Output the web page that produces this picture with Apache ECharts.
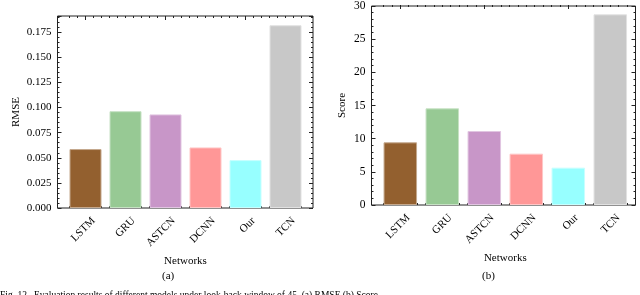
<!DOCTYPE html>
<html>
<head>
<meta charset="utf-8">
<script src="https://cdn.jsdelivr.net/npm/echarts@6/dist/echarts.min.js"></script>
<style>html,body{margin:0;padding:0;background:#fff}#c{width:640px;height:295px}</style>
</head>
<body>
<div id="c"></div>
<script>
// ---- data ----
const categories = ['LSTM', 'GRU', 'ASTCN', 'DCNN', 'Our', 'TCN'];
const rmseValues = [0.0587, 0.0964, 0.0932, 0.0603, 0.0477, 0.182];
const scoreValues = [9.4, 14.5, 11.1, 7.7, 5.6, 28.6];
const barColors = ['#93602f', '#97c994', '#c896c8', '#ff9797', '#97ffff', '#c8c8c8'];
const rmseTickStep = 0.025;
const scoreTickStep = 5;
const xTitle = 'Networks';
const yTitleA = 'RMSE';
const yTitleB = 'Score';
const caption = 'Fig. 12   Evaluation results of different models under look-back window of 45. (a) RMSE (b) Score';

const FONT = '"Liberation Serif", "DejaVu Serif", serif';
const minorCats = Array.from({length: 30}, () => '');

function lighten(hex, f) {
  const n = parseInt(hex.slice(1), 16);
  const r = (n >> 16) & 255, g = (n >> 8) & 255, b = n & 255;
  const m = c => Math.round(c + (255 - c) * f);
  return 'rgb(' + m(r) + ',' + m(g) + ',' + m(b) + ')';
}

function panel(gi, xi, yi, frame, bars, yMax, step, fmt, yTitle, nameGap, vals, barW, labelFont, xNameGap) {
  const grids = [
    Object.assign({show: true, borderColor: '#222', borderWidth: 1, backgroundColor: 'transparent'}, frame),
    Object.assign({show: false}, bars)
  ];
  const tickStyle = {color: '#222', width: 1};
  const xAxes = [
    {type: 'value', gridIndex: gi, show: false, min: 0, max: 1},
    {type: 'category', gridIndex: gi + 1, position: 'bottom', data: categories,
      axisLine: {show: false},
      axisTick: {show: true, inside: true, length: 4, alignWithLabel: true, lineStyle: tickStyle},
      axisLabel: {interval: 0, rotate: 45, margin: 3, verticalAlign: 'top', padding: [6, 0, 0, 0],
        color: '#000', fontFamily: FONT, fontSize: 11},
      name: xTitle, nameLocation: 'middle', nameGap: xNameGap,
      nameTextStyle: {color: '#000', fontFamily: FONT, fontSize: 11}},
    {type: 'category', gridIndex: gi + 1, position: 'top', data: categories,
      axisLine: {show: false}, axisLabel: {show: false},
      axisTick: {show: true, inside: true, length: 4, alignWithLabel: true, lineStyle: tickStyle}},
    {type: 'category', gridIndex: gi + 1, position: 'bottom', data: minorCats,
      axisLine: {show: false}, axisLabel: {show: false},
      axisTick: {show: true, inside: true, length: 2, interval: 0, alignWithLabel: true, lineStyle: tickStyle}},
    {type: 'category', gridIndex: gi + 1, position: 'top', data: minorCats,
      axisLine: {show: false}, axisLabel: {show: false},
      axisTick: {show: true, inside: true, length: 2, interval: 0, alignWithLabel: true, lineStyle: tickStyle}}
  ];
  const yBase = {type: 'value', min: 0, max: yMax, interval: step, splitLine: {show: false},
    axisLine: {show: false},
    axisTick: {show: true, inside: true, length: 4, lineStyle: tickStyle},
    minorTick: {show: true, splitNumber: 5, length: 2, lineStyle: tickStyle}};
  const yAxes = [
    Object.assign({}, yBase, {gridIndex: gi, position: 'left',
      axisLabel: {color: '#000', fontFamily: FONT, fontSize: labelFont, margin: 6, formatter: fmt, showMaxLabel: yMax % step === 0},
      name: yTitle, nameLocation: 'middle', nameGap: nameGap,
      nameTextStyle: {color: '#000', fontFamily: FONT, fontSize: 11}}),
    Object.assign({}, yBase, {gridIndex: gi, position: 'right', axisLabel: {show: false}}),
    {type: 'value', gridIndex: gi + 1, min: 0, max: yMax, show: false}
  ];
  const series = [{
    type: 'bar', xAxisIndex: xi + 1, yAxisIndex: yi + 2, barWidth: barW,
    data: vals.map((v, i) => ({value: v, itemStyle: {color: barColors[i], borderColor: lighten(barColors[i], 0.45), borderWidth: 1}})),
    silent: true, animation: false
  }];
  return {grids, xAxes, yAxes, series};
}

const A = panel(0, 0, 0,
  {left: 57.5, top: 16, width: 255.5, height: 192},
  {left: 65.5, top: 16, width: 240, height: 192},
  0.1912, rmseTickStep, v => v.toFixed(3), yTitleA, 36, rmseValues, 32, 11, 42);
const B = panel(2, 5, 3,
  {left: 371.5, top: 5, width: 264, height: 200},
  {left: 379.3, top: 5, width: 252, height: 200},
  30, scoreTickStep, v => String(v), yTitleB, 24, scoreValues, 33.5, 11.5, 43);

const chart = echarts.init(document.getElementById('c'), null, {renderer: 'canvas'});
chart.setOption({
  animation: false,
  backgroundColor: '#fff',
  grid: A.grids.concat(B.grids),
  xAxis: A.xAxes.concat(B.xAxes),
  yAxis: A.yAxes.concat(B.yAxes),
  series: A.series.concat(B.series),
  graphic: [
    {type: 'text', left: 162, top: 271, style: {text: '(a)', font: '11px ' + FONT, fill: '#000'}},
    {type: 'text', left: 482, top: 271, style: {text: '(b)', font: '11px ' + FONT, fill: '#000'}},
    {type: 'text', left: 0, top: 290, style: {text: caption, font: '9.5px ' + FONT, fill: '#000'}}
  ]
});
</script>
</body>
</html>
